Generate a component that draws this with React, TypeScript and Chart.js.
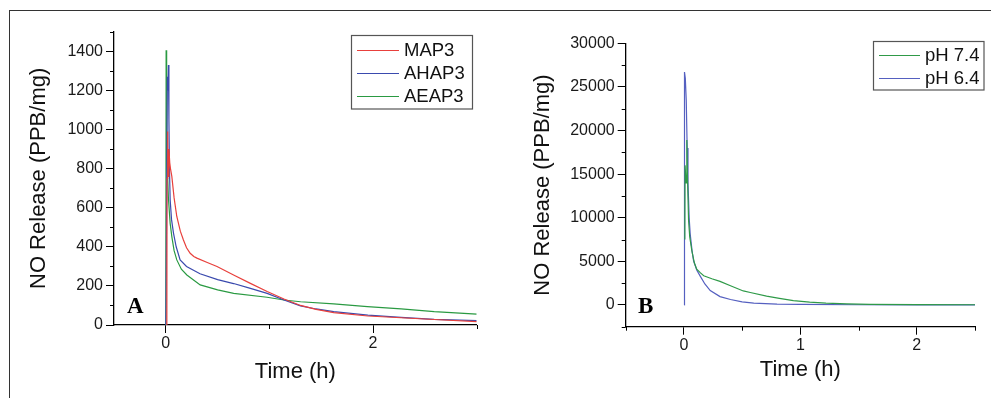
import { useEffect, useRef } from 'react';
import { Chart, registerables } from 'chart.js';

Chart.register(...registerables);

// ---------- Panel A data ----------
const MAP3_T = [0.01, 0.012, 0.018, 0.022, 0.03, 0.038, 0.045, 0.058, 0.08, 0.106, 0.14, 0.17, 0.2, 0.235, 0.27, 0.3, 0.4, 0.494, 0.654, 0.816, 0.978, 1.14, 1.3, 1.45, 1.62, 1.95, 2.27, 2.59, 3.0];
const MAP3_V = [0, 750, 990, 760, 900, 830, 800, 760, 650, 555, 480, 435, 395, 367, 350, 342, 320, 299, 256, 213, 171, 133, 100, 80, 63, 46, 37, 28, 17];

const AHAP3_T = [0, 0.002, 0.01, 0.015, 0.02, 0.025, 0.03, 0.035, 0.042, 0.055, 0.074, 0.1, 0.138, 0.2, 0.33, 0.5, 0.654, 0.8, 0.978, 1.14, 1.3, 1.45, 1.62, 1.95, 2.27, 2.59, 3.0];
const AHAP3_V = [0, 110, 110, 1270, 1200, 1330, 1050, 800, 640, 540, 470, 400, 333, 299, 262, 232, 212, 190, 162, 128, 98, 82, 68, 51, 39, 29, 22];

const AEAP3_T = [0, 0.003, 0.008, 0.015, 0.025, 0.042, 0.058, 0.08, 0.106, 0.15, 0.203, 0.332, 0.5, 0.655, 0.977, 1.14, 1.3, 1.62, 1.945, 2.27, 2.59, 3.0];
const AEAP3_V = [0, 1405, 1000, 800, 650, 520, 452, 380, 333, 285, 256, 205, 180, 162, 142, 128, 119, 108, 94, 82, 68, 56];

const A_LABELS = ['MAP3', 'AHAP3', 'AEAP3'];
const A_COLORS = ['#e8403c', '#3a4aae', '#2a9a42'];
const A_X_MAJOR = [0, 2];
const A_X_MINOR = [1, 3];
const A_Y_MAJOR = [0, 200, 400, 600, 800, 1000, 1200, 1400];
const A_Y_MINOR = [100, 300, 500, 700, 900, 1100, 1300, 1500];

// ---------- Panel B data ----------
const PH74_T = [0.008, 0.01, 0.018, 0.025, 0.03, 0.04, 0.05, 0.068, 0.09, 0.11, 0.14, 0.17, 0.24, 0.31, 0.4, 0.51, 0.57, 0.71, 0.82, 0.94, 1.08, 1.22, 1.4, 1.6, 2.0, 2.5];
const PH74_V = [7500, 16000, 14000, 18900, 15000, 9670, 7800, 6210, 4800, 4100, 3700, 3350, 3000, 2700, 2200, 1600, 1420, 1000, 750, 500, 320, 200, 110, 60, 35, 20];

const PH64_T = [0.003, 0.005, 0.012, 0.02, 0.028, 0.035, 0.045, 0.054, 0.07, 0.083, 0.11, 0.14, 0.18, 0.226, 0.31, 0.4, 0.5, 0.6, 0.8, 1.0, 1.5, 2.0, 2.5];
const PH64_V = [0, 26700, 26000, 23500, 18000, 14000, 10000, 8130, 6200, 5060, 4000, 3300, 2400, 1650, 950, 620, 350, 200, 90, 50, 20, 10, 5];

const B_LABELS = ['pH 7.4', 'pH 6.4'];
const B_COLORS = ['#2f9a48', '#5560c0'];
const B_X_MAJOR = [0, 1, 2];
const B_X_MINOR = [-0.5, 0.5, 1.5, 2.5];
const B_Y_MAJOR = [0, 5000, 10000, 15000, 20000, 25000, 30000];
const B_Y_MINOR = [-2500, 2500, 7500, 12500, 17500, 22500, 27500];

const SANS = '"Liberation Sans", Arial, sans-serif';

const pts = (t: number[], v: number[]) => t.map((x, i) => ({ x, y: v[i] }));

const minorTicksPlugin = {
  id: 'minorTicks',
  afterDraw(chart: any, _args: any, opts: any) {
    const { ctx, chartArea, scales } = chart;
    ctx.save();
    ctx.strokeStyle = '#000';
    ctx.lineWidth = 1;
    ctx.beginPath();
    (opts.x || []).forEach((v: number) => {
      const px = Math.round(scales.x.getPixelForValue(v)) + 0.5;
      ctx.moveTo(px, chartArea.bottom);
      ctx.lineTo(px, chartArea.bottom + 4);
    });
    (opts.y || []).forEach((v: number) => {
      const py = Math.round(scales.y.getPixelForValue(v)) + 0.5;
      ctx.moveTo(chartArea.left - 4, py);
      ctx.lineTo(chartArea.left, py);
    });
    ctx.stroke();
    ctx.restore();
  },
};

const boxLegendPlugin = {
  id: 'boxLegend',
  afterDraw(chart: any, _args: any, opts: any) {
    const { ctx } = chart;
    const { x, y, w, h, rowY, lineX0, lineX1, textX } = opts;
    ctx.save();
    ctx.strokeStyle = '#555';
    ctx.lineWidth = 1.2;
    ctx.strokeRect(x, y, w, h);
    ctx.font = `18.5px ${SANS}`;
    ctx.textBaseline = 'middle';
    chart.data.datasets.forEach((ds: any, i: number) => {
      const yy = rowY[i];
      ctx.strokeStyle = ds.borderColor;
      ctx.lineWidth = 1;
      ctx.beginPath();
      ctx.moveTo(lineX0, yy + 0.5);
      ctx.lineTo(lineX1, yy + 0.5);
      ctx.stroke();
      ctx.fillStyle = '#111';
      ctx.fillText(ds.label, textX, yy + 1);
    });
    ctx.restore();
  },
};

const panelLabelPlugin = {
  id: 'panelLabel',
  afterDraw(chart: any, _args: any, opts: any) {
    const { ctx } = chart;
    ctx.save();
    ctx.font = 'bold 23px "Liberation Serif", "Times New Roman", serif';
    ctx.fillStyle = '#000';
    ctx.textBaseline = 'alphabetic';
    ctx.fillText(opts.text, opts.x, opts.y);
    ctx.restore();
  },
};

function makeConfig(p: {
  datasets: any[];
  xMin: number; xMax: number; yMin: number; yMax: number;
  xMajor: number[]; yMajor: number[]; xMinor: number[]; yMinor: number[];
  yWidth: number; xHeight: number; padTop: number; padRight: number;
  yTitlePad: number; xTitlePad: number;
  legend: any; label: any;
}): any {
  const tickFont = { family: SANS, size: 16 };
  const titleFont = { family: SANS, size: 22 };
  return {
    type: 'line',
    data: { datasets: p.datasets },
    options: {
      animation: false,
      responsive: false,
      maintainAspectRatio: false,
      layout: { padding: { left: 0, top: p.padTop, right: p.padRight, bottom: 0 } },
      elements: { point: { radius: 0 }, line: { tension: 0 } },
      plugins: {
        legend: { display: false },
        tooltip: { enabled: false },
        minorTicks: { x: p.xMinor, y: p.yMinor },
        boxLegend: p.legend,
        panelLabel: p.label,
      },
      scales: {
        x: {
          type: 'linear',
          min: p.xMin,
          max: p.xMax,
          afterBuildTicks: (s: any) => { s.ticks = p.xMajor.map((v) => ({ value: v })); },
          afterFit: (s: any) => { s.height = p.xHeight; },
          grid: { display: true, drawOnChartArea: false, drawTicks: true, tickLength: 8, color: '#000', lineWidth: 1 },
          border: { display: true, color: '#000', width: 1.3 },
          ticks: { font: tickFont, color: '#1a1a1a', padding: 1, maxRotation: 0, callback: (v: any) => String(v) },
          title: { display: true, text: 'Time (h)', font: titleFont, color: '#111', padding: { top: 0, bottom: p.xTitlePad } },
        },
        y: {
          type: 'linear',
          min: p.yMin,
          max: p.yMax,
          afterBuildTicks: (s: any) => { s.ticks = p.yMajor.map((v) => ({ value: v })); },
          afterFit: (s: any) => { s.width = p.yWidth; },
          grid: { display: true, drawOnChartArea: false, drawTicks: true, tickLength: 8, color: '#000', lineWidth: 1 },
          border: { display: true, color: '#000', width: 1.3 },
          ticks: { font: tickFont, color: '#1a1a1a', padding: 3, callback: (v: any) => String(v) },
          title: { display: true, text: 'NO Release (PPB/mg)', font: titleFont, color: '#111', padding: { top: p.yTitlePad, bottom: 0 } },
        },
      },
    },
    plugins: [minorTicksPlugin, boxLegendPlugin, panelLabelPlugin],
  };
}

export default function App() {
  const refA = useRef<HTMLCanvasElement>(null);
  const refB = useRef<HTMLCanvasElement>(null);

  useEffect(() => {
    const ds = (label: string, color: string, t: number[], v: number[]) => ({
      label,
      data: pts(t, v),
      borderColor: color,
      backgroundColor: color,
      borderWidth: 1.2,
      pointRadius: 0,
      fill: false,
    });

    const chartA = new Chart(refA.current as HTMLCanvasElement, makeConfig({
      datasets: [
        ds(A_LABELS[0], A_COLORS[0], MAP3_T, MAP3_V),
        ds(A_LABELS[1], A_COLORS[1], AHAP3_T, AHAP3_V),
        ds(A_LABELS[2], A_COLORS[2], AEAP3_T, AEAP3_V),
      ],
      xMin: -0.5, xMax: 3, yMin: 0, yMax: 1500,
      xMajor: A_X_MAJOR, yMajor: A_Y_MAJOR, xMinor: A_X_MINOR, yMinor: A_Y_MINOR,
      yWidth: 114, xHeight: 73, padTop: 31.7, padRight: 23.3,
      yTitlePad: 26, xTitlePad: 13,
      legend: { x: 351.5, y: 35.5, w: 121, h: 73.5, rowY: [50, 73, 96], lineX0: 357, lineX1: 399, textX: 404 },
      label: { text: 'A', x: 127, y: 313 },
    }));

    const chartB = new Chart(refB.current as HTMLCanvasElement, makeConfig({
      datasets: [
        ds(B_LABELS[0], B_COLORS[0], PH74_T, PH74_V),
        ds(B_LABELS[1], B_COLORS[1], PH64_T, PH64_V),
      ],
      xMin: -0.5, xMax: 2.5, yMin: -2500, yMax: 30000,
      xMajor: B_X_MAJOR, yMajor: B_Y_MAJOR, xMinor: B_X_MINOR, yMinor: B_Y_MINOR,
      yWidth: 125.7, xHeight: 71.3, padTop: 43.3, padRight: 16,
      yTitlePad: 30, xTitlePad: 15,
      legend: { x: 373.5, y: 41.5, w: 110.5, h: 48.5, rowY: [55, 78], lineX0: 379, lineX1: 420, textX: 425 },
      label: { text: 'B', x: 138, y: 313 },
    }));

    return () => {
      chartA.destroy();
      chartB.destroy();
    };
  }, []);

  return (
    <div style={{ position: 'absolute', left: 0, top: 0, width: 991, height: 398, background: '#fff', overflow: 'hidden' }}>
      <div style={{ position: 'absolute', left: 9, top: 10, width: 990, height: 400, borderTop: '1.5px solid #333', borderLeft: '1.5px solid #333' }} />
      <canvas ref={refA} width={500} height={398} style={{ position: 'absolute', left: 0, top: 0 }} />
      <canvas ref={refB} width={491} height={398} style={{ position: 'absolute', left: 500, top: 0 }} />
    </div>
  );
}
